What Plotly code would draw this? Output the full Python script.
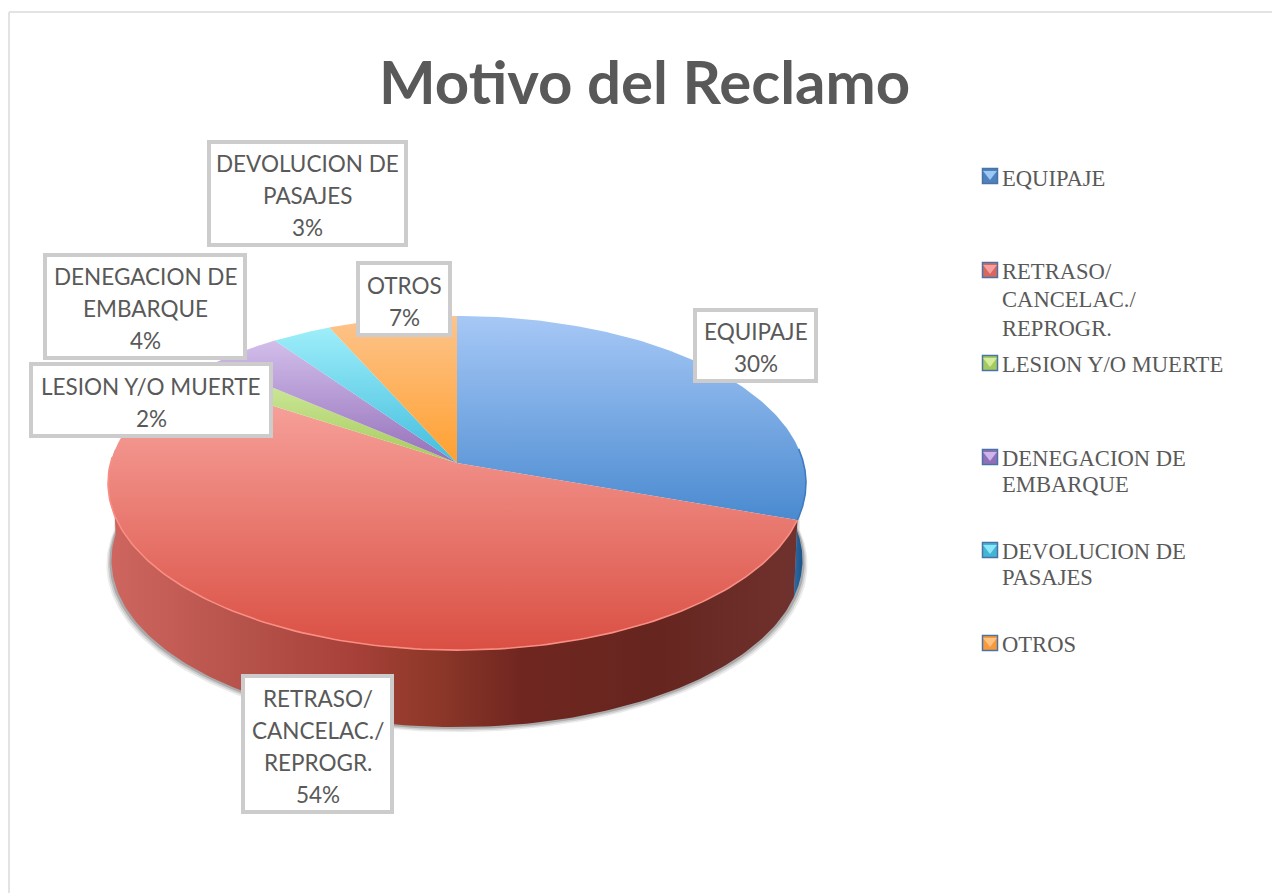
import numpy as np
import plotly.graph_objects as go

# --- data ---
categories = ["EQUIPAJE", "RETRASO/ CANCELAC./ REPROGR.", "LESION Y/O MUERTE",
              "DENEGACION DE EMBARQUE", "DEVOLUCION DE PASAJES", "OTROS"]
values = [30.4, 53.8, 2.1, 3.9, 3.1, 6.7]

# --- styles ---
TEXT = "#595959"
top_colors = [("#A6C8F6", "#4A8AD0"), ("#F9A8A2", "#DA4F43"), ("#D6EDA6", "#A5CB5C"),
              ("#D2BEEA", "#9470BA"), ("#9EEEFA", "#42BDDD"), ("#FDC48C", "#FFA030")]
wall_scales = {0: [[0, "#2C6AA6"], [1, "#164A7C"]],
               1: [[0, "#CF6660"], [0.2, "#B5524A"], [0.35, "#A8413A"], [0.47, "#8E3829"],
                   [0.6, "#702620"], [0.8, "#66251F"], [1, "#70322E"]]}
rim_colors = ["#3F7CBF", "#F88E84", "#C8E58E", "#C0A8E0", "#80E0F0", "#FFB060"]
legend_light = ["#9CC8F4", "#F4A09C", "#D4EC9C", "#CDB4EA", "#8CE8F8", "#FFC080"]
legend_dark = ["#4F81BD", "#D9675F", "#A4C95E", "#8F6FB8", "#45B5D5", "#F79A3C"]

CX, APEX_Y, R, A, C = 457.0, 463.0, 346.5, -109.2, 0.1198
DEPTH, WALL_SCALE = 77.0, 0.99


def face(t):
    """Perspective projection of the pie's circular top face; t in radians, clockwise from top."""
    u, v = np.sin(t), np.cos(t)
    den = C * v + 1
    return CX + R * u / den, (A * v + APEX_Y) / den


def base(t):
    x, y = face(t)
    return CX + (x - CX) * WALL_SCALE, y + DEPTH


def arc(a, b, n=160):
    return np.radians(np.linspace(a, b, n))


fractions = np.array(values, dtype=float) / sum(values)
edges = np.concatenate([[0.0], np.cumsum(fractions)]) * 360.0

fig = go.Figure()

# soft shadow below the base
for grow, dy, alpha in [(5, 5, 0.10), (3.5, 3.5, 0.16), (2, 2, 0.25)]:
    t = arc(85, 275)
    xb, yb = base(t)
    xs = CX + (xb - CX) * (1 + grow / 345)
    ys = yb + dy
    xt, yt = face(t[::-1])
    fig.add_trace(go.Scatter(x=np.r_[xs, xt], y=np.r_[ys, yt], mode="lines", fill="toself",
                             line=dict(width=0), fillcolor=f"rgba(60,60,60,{alpha})",
                             hoverinfo="skip", showlegend=False))

# side walls (only the front of the pie shows)
wall_ranges = {0: (85, edges[1]), 1: (edges[1], 272)}
for i, (a, b) in wall_ranges.items():
    t = arc(a, b)
    xt, yt = face(t)
    xb, yb = base(t[::-1])
    xw, yw = np.r_[xt, xb], np.r_[yt, yb]
    fig.add_trace(go.Scatter(x=xw, y=yw, mode="lines", fill="toself", line=dict(width=0),
                             fillgradient=dict(type="horizontal", colorscale=wall_scales[i],
                                               start=float(xw.min()), stop=float(xw.max())),
                             hoverinfo="skip", showlegend=False))

# top face slices
for i, name in enumerate(categories):
    t = arc(edges[i], edges[i + 1], 120)
    xa, ya = face(t)
    x = np.r_[CX, xa, CX]
    y = np.r_[APEX_Y, ya, APEX_Y]
    c0, c1 = top_colors[i]
    fig.add_trace(go.Scatter(x=x, y=y, mode="lines", fill="toself", name=name, line=dict(width=0),
                             fillgradient=dict(type="vertical", colorscale=[[0, c0], [1, c1]],
                                               start=float(y.min()), stop=float(y.max())),
                             showlegend=False, hovertemplate=f"{name}: {round(values[i])}%<extra></extra>"))

# light rim on the front of the face
for i, (a, b) in wall_ranges.items():
    xr, yr = face(arc(a, b))
    fig.add_trace(go.Scatter(x=xr, y=yr, mode="lines", line=dict(color=rim_colors[i], width=1.6),
                             hoverinfo="skip", showlegend=False))

# legend keys
legend_y = [176, 270, 363, 457, 550, 643]
fig.add_trace(go.Scatter(x=[990] * 6, y=legend_y, mode="markers", hoverinfo="skip", showlegend=False,
                         marker=dict(symbol="square", size=15, color=legend_dark,
                                     line=dict(color="#4A73A5", width=1.5))))
fig.add_trace(go.Scatter(x=[990] * 6, y=[v - 2 for v in legend_y], mode="markers", hoverinfo="skip",
                         showlegend=False,
                         marker=dict(symbol="triangle-down", size=12, color=legend_light)))

annotations = []
shapes = [
    dict(type="line", xref="x", yref="y", x0=9, y0=12, x1=1272, y1=12, line=dict(color="#E3E3E3", width=2)),
    dict(type="line", xref="x", yref="y", x0=9, y0=12, x1=9, y1=893, line=dict(color="#E3E3E3", width=2)),
]

# title
annotations.append(dict(text="<b>Motivo del Reclamo</b>", x=644, y=81, xref="x", yref="y", showarrow=False,
                        xanchor="center", yanchor="middle",
                        font=dict(family="Lato", size=60, color=TEXT)))

# data labels: text lines, outer box (left, right, top, bottom)
labels = [
    (0, ["EQUIPAJE"], (693, 818, 308, 383)),
    (1, ["RETRASO/", "CANCELAC./", "REPROGR."], (241, 394, 674, 814)),
    (3, ["DENEGACION DE", "EMBARQUE"], (43, 247, 253, 360)),
    (2, ["LESION Y/O MUERTE"], (29, 273, 362, 438)),
    (4, ["DEVOLUCION DE", "PASAJES"], (207, 408, 140, 247)),
    (5, ["OTROS"], (356, 452, 261, 337)),
]
BW = 4
LINE = 32
for i, lines, (l, r, tp, bt) in labels:
    shapes.append(dict(type="rect", xref="x", yref="y", layer="above",
                       x0=l + BW / 2, x1=r - BW / 2, y0=tp + BW / 2, y1=bt - BW / 2,
                       fillcolor="white", line=dict(color="#CCCCCC", width=BW)))
    rows = lines + [f"{round(values[i])}%"]
    y0 = (tp + bt) / 2 - LINE * (len(rows) - 1) / 2 + 2
    for k, row in enumerate(rows):
        annotations.append(dict(text=row, x=(l + r) / 2, y=y0 + k * LINE, xref="x", yref="y",
                                showarrow=False, xanchor="center", yanchor="middle",
                                font=dict(family="Lato", size=22.5, color=TEXT)))

# legend text, one row per line
legend_rows = [
    ("EQUIPAJE", 178),
    ("RETRASO/", 271), ("CANCELAC./", 299), ("REPROGR.", 328),
    ("LESION Y/O MUERTE", 364),
    ("DENEGACION DE", 458), ("EMBARQUE", 484),
    ("DEVOLUCION DE", 551), ("PASAJES", 577),
    ("OTROS", 644),
]
for row, yc in legend_rows:
    annotations.append(dict(text=row, x=1000, y=yc, xref="x", yref="y", showarrow=False,
                            xanchor="left", yanchor="middle",
                            font=dict(family="Liberation Serif", size=22.6, color=TEXT)))

fig.update_layout(
    width=1272, height=893, autosize=False, margin=dict(l=0, r=0, t=0, b=0),
    paper_bgcolor="white", plot_bgcolor="white", showlegend=False,
    xaxis=dict(range=[0, 1272], visible=False, fixedrange=True),
    yaxis=dict(range=[893, 0], visible=False, fixedrange=True),
    annotations=annotations,
    shapes=shapes,
)
fig.write_html("out.html", config={"displayModeBar": False},
               post_script="document.body.style.margin='0';document.body.style.overflow='hidden';")
